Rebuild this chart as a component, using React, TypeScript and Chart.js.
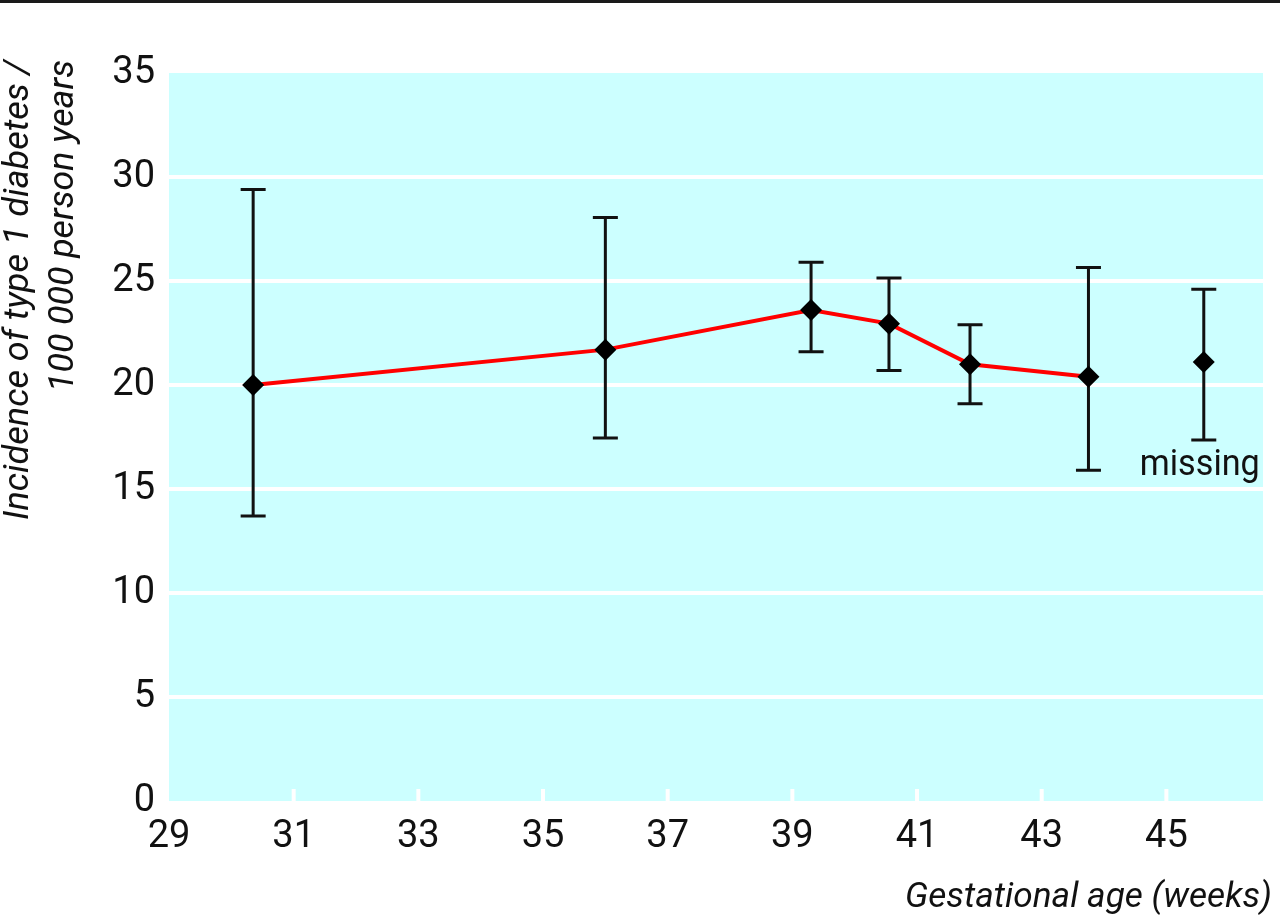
import React, { useEffect, useRef } from "react";
import { Chart, registerables } from "chart.js";

Chart.register(...registerables);

// ---- data ----
const weeks = [30.35, 36.0, 39.3, 40.55, 41.85, 43.75];
const incidence = [20.0, 21.7, 23.6, 22.95, 21.0, 20.4];
const ciLower = [13.7, 17.45, 21.6, 20.7, 19.1, 15.9];
const ciUpper = [29.4, 28.05, 25.9, 25.15, 22.9, 25.65];

const missingWeek = [45.6];
const missingIncidence = [21.1];
const missingLower = [17.35];
const missingUpper = [24.6];

const xTicks = [29, 31, 33, 35, 37, 39, 41, 43, 45];
const yTicks = [0, 5, 10, 15, 20, 25, 30, 35];

const yTitle = ["Incidence of type 1 diabetes /", "100 000 person years"];
const xTitle = "Gestational age (weeks)";
const missingLabel = "missing";

const FONT = 'Roboto, "DejaVu Sans Condensed", sans-serif';

// draws text squeezed horizontally to a target width (condensed face look)
function fitText(ctx: any, text: string, x: number, y: number, width: number) {
  const w = ctx.measureText(text).width;
  const k = w > 0 ? width / w : 1;
  ctx.save();
  ctx.translate(x, y);
  ctx.scale(k, 1);
  ctx.fillText(text, 0, 0);
  ctx.restore();
}

const decorPlugin = {
  id: "decor",
  beforeDraw(chart: any) {
    const { ctx, chartArea: a } = chart;
    ctx.save();
    ctx.fillStyle = "#ccffff";
    ctx.fillRect(a.left, a.top, a.right - a.left, a.bottom - a.top);
    ctx.fillStyle = "#1a1a1a";
    ctx.fillRect(0, 0, chart.width, 3);
    ctx.restore();
  },
  beforeDatasetsDraw(chart: any) {
    const { ctx, chartArea: a } = chart;
    const xs = chart.scales.x;
    const ys = chart.scales.y;
    ctx.save();
    // white tick marks at the bottom inside the plot
    ctx.strokeStyle = "#ffffff";
    ctx.lineWidth = 4;
    xTicks.slice(1).forEach((t) => {
      const px = xs.getPixelForValue(t);
      ctx.beginPath();
      ctx.moveTo(px, a.bottom);
      ctx.lineTo(px, a.bottom - 12);
      ctx.stroke();
    });
    // error bars
    ctx.strokeStyle = "#111111";
    ctx.lineWidth = 3;
    const cap = 12.5;
    const drawBar = (x: number, lo: number, hi: number) => {
      const px = xs.getPixelForValue(x);
      const pl = ys.getPixelForValue(lo);
      const ph = ys.getPixelForValue(hi);
      ctx.beginPath();
      ctx.moveTo(px, pl);
      ctx.lineTo(px, ph);
      ctx.moveTo(px - cap, pl);
      ctx.lineTo(px + cap, pl);
      ctx.moveTo(px - cap, ph);
      ctx.lineTo(px + cap, ph);
      ctx.stroke();
    };
    weeks.forEach((w, i) => drawBar(w, ciLower[i], ciUpper[i]));
    missingWeek.forEach((w, i) => drawBar(w, missingLower[i], missingUpper[i]));
    ctx.restore();
  },
  afterDraw(chart: any) {
    const { ctx } = chart;
    const xs = chart.scales.x;
    const ys = chart.scales.y;
    ctx.save();
    ctx.fillStyle = "#111111";
    ctx.textBaseline = "alphabetic";
    ctx.textAlign = "left";
    // y title (rotated, two lines, aligned to top)
    ctx.font = `italic 35px ${FONT}`;
    const baselines = [28, 73];
    const lengths = [460, 332];
    yTitle.forEach((line, i) => {
      ctx.save();
      ctx.translate(baselines[i], 60 + lengths[i]);
      ctx.rotate(-Math.PI / 2);
      fitText(ctx, line, 0, 0, lengths[i]);
      ctx.restore();
    });
    // x title
    fitText(ctx, xTitle, 905, 907, 367);
    // missing label
    ctx.font = `36px ${FONT}`;
    const mx = xs.getPixelForValue(missingWeek[0]) - 4;
    fitText(ctx, missingLabel, mx - 60, ys.getPixelForValue(missingLower[0]) + 35, 120);
    ctx.restore();
  },
};

export default function App() {
  const canvasRef = useRef<HTMLCanvasElement | null>(null);

  useEffect(() => {
    const canvas = canvasRef.current;
    if (!canvas) return;
    const chart = new Chart(canvas, {
      type: "line",
      data: {
        datasets: [
          {
            label: "Incidence",
            data: weeks.map((w, i) => ({ x: w, y: incidence[i] })),
            borderColor: "#ff0000",
            borderWidth: 4,
            tension: 0,
            pointStyle: "rectRot",
            pointRadius: 11,
            pointBackgroundColor: "#000000",
            pointBorderColor: "#000000",
            pointBorderWidth: 0,
            fill: false,
          },
          {
            label: "Missing",
            data: missingWeek.map((w, i) => ({ x: w, y: missingIncidence[i] })),
            showLine: false,
            pointStyle: "rectRot",
            pointRadius: 11,
            pointBackgroundColor: "#000000",
            pointBorderColor: "#000000",
            pointBorderWidth: 0,
          },
        ],
      },
      options: {
        animation: false,
        responsive: true,
        maintainAspectRatio: false,
        devicePixelRatio: 1,
        layout: { padding: { top: 73, right: 17, bottom: 0, left: 0 } },
        plugins: {
          legend: { display: false },
          tooltip: { enabled: false },
        },
        scales: {
          x: {
            type: "linear",
            min: 29,
            max: 46.55,
            afterBuildTicks: (s: any) => {
              s.ticks = xTicks.map((v) => ({ value: v }));
            },
            afterFit: (s: any) => {
              s.height = 119;
            },
            grid: { display: false, drawTicks: false },
            border: { display: false },
            ticks: {
              padding: 14,
              color: "#111111",
              font: { family: FONT, size: 38 },
              maxRotation: 0,
              autoSkip: false,
            },
          },
          y: {
            type: "linear",
            min: 0,
            max: 35,
            afterBuildTicks: (s: any) => {
              s.ticks = yTicks.map((v) => ({ value: v }));
            },
            afterFit: (s: any) => {
              s.width = 169;
            },
            grid: {
              drawTicks: false,
              lineWidth: 4,
              color: (c: any) =>
                c.tick && (c.tick.value === 0 || c.tick.value === 35)
                  ? "rgba(0,0,0,0)"
                  : "#ffffff",
            },
            border: { display: false },
            ticks: {
              padding: 14,
              color: "#111111",
              font: { family: FONT, size: 38 },
            },
          },
        },
      },
      plugins: [decorPlugin],
    });
    return () => chart.destroy();
  }, []);

  return (
    <div
      style={{
        position: "fixed",
        left: 0,
        top: 0,
        width: 1280,
        height: 920,
        background: "#ffffff",
      }}
    >
      <canvas ref={canvasRef} />
    </div>
  );
}
